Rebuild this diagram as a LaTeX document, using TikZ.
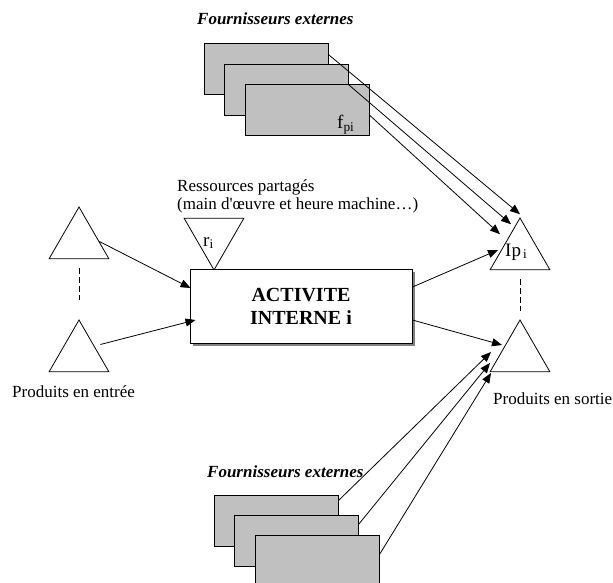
\documentclass[tikz,border=0pt]{standalone}
\usepackage{fontspec}
\setmainfont{Liberation Serif}
\usetikzlibrary{arrows.meta,shapes,calc,shadows}

\definecolor{boxgray}{RGB}{192,192,192}
\definecolor{shadowgray}{RGB}{128,128,128}

\begin{document}
\begin{tikzpicture}[x=1pt,y=-1pt]
\tikzset{
	supplier box/.style = {rectangle, draw, fill = boxgray, minimum width = 124pt, minimum height = 51pt, inner sep = 0, line width = 0.9pt},
	stock node/.style = {regular polygon, regular polygon sides = 3, draw, minimum size = 69pt, inner sep = 0, line width = 0.8pt},
	activity box/.style = {rectangle, draw, fill = white, minimum width = 222pt, minimum height = 74pt, line width = 1pt, align = center, font = \fontsize{20}{23}\selectfont\bfseries, drop shadow = {shadow xshift = 3pt, shadow yshift = -3pt, fill = shadowgray, opacity = 1}},
	label text/.style = {font = \fontsize{17}{19}\selectfont, inner sep = 0, anchor = base west},
	title text/.style = {font = \fontsize{17}{19}\selectfont\bfseries\itshape, inner sep = 0, anchor = base west},
	index text/.style = {font = \fontsize{19}{21}\selectfont, inner sep = 0, anchor = base west},
	flow/.style = {-{Triangle[length = 10pt, width = 8pt]}, line width = 0.8pt},
}
\useasboundingbox (0,0) rectangle (613,583);

% fournisseurs du haut
\node (ttop) [title text] at (197,25) {Fournisseurs externes};
\node (ft1) [supplier box] at (266,68.5) {};
\node (ft2) [supplier box] at (286,89.5) {};
\node (ft3) [supplier box] at (307,110) {};
\node (fpi) [index text] at (337,129) {f\textsubscript{pi}};

% ressources
\node (res1) [label text] at (177,191) {Ressources partagés};
\node (res2) [label text] at (177,209) {(main d\textquotesingle œuvre et heure machine…)};
\node (ri) [stock node, shape border rotate = 180] at (214,235.5) {};
\node (rilabel) [index text] at (203,246) {r\textsubscript{i}};

% activite
\node (act) [activity box] at (301,306) {ACTIVITE\\INTERNE i};

% produits en entree
\node (in1) [stock node] at (79,241.5) {};
\node (in2) [stock node] at (79,354.5) {};
\node (inlabel) [label text] at (12,397) {Produits en entrée};

% produits en sortie
\node (ip) [stock node] at (520,252.5) {};
\node (iplabel) [index text] at (505,256) {Ip\textsubscript{\,i}};
\node (out2) [stock node] at (520,354.5) {};
\node (outlabel) [label text] at (493,404) {Produits en sortie};

% fournisseurs du bas
\node (tbot) [title text] at (207,477) {Fournisseurs externes};
\node (fb1) [supplier box] at (276,520.5) {};
\node (fb2) [supplier box] at (296,540.5) {};
\node (fb3) [supplier box] at (317,560.5) {};

\draw [dashed, dash pattern = on 6pt off 3pt, line width = 0.8pt, shorten <= 9pt, shorten >= 19pt] (in1.south) to (in2.north);
\draw [dashed, dash pattern = on 6pt off 3pt, line width = 0.8pt, shorten <= 9pt, shorten >= 8pt] (ip.south) to (out2.north);

\draw [flow] (in1.east) to ($(act.west)+(1,-18)$);
\draw [flow] ($(in2.east)+(1,-10)$) to ($(act.west)+(6,14)$);
\draw [flow] ($(act.east)+(0,-19)$) to ($(ip.center)+(-22,-2.5)$);
\draw [flow] ($(act.east)+(0,14)$) to ($(out2.center)+(-18,-9.5)$);

\draw [flow] ($(ft1.north east)+(0,12)$) to ($(ip.corner 1)+(0,-3)$);
\draw [flow] ($(ft2.north east)+(0,21)$) to ($(ip.corner 1)+(-9,7)$);
\draw [flow] ($(ft3.north east)+(0,31)$) to ($(ip.corner 1)+(-20,17)$);

\draw [flow] ($(fb1.north east)+(0,6)$) to ($(out2.center)+(-29,-2.5)$);
\draw [flow] ($(fb2.north east)+(0,10)$) to ($(out2.center)+(-30,8.5)$);
\draw [flow] ($(fb3.north east)+(0,20)$) to ($(out2.center)+(-29,18.5)$);

\end{tikzpicture}
\end{document}
